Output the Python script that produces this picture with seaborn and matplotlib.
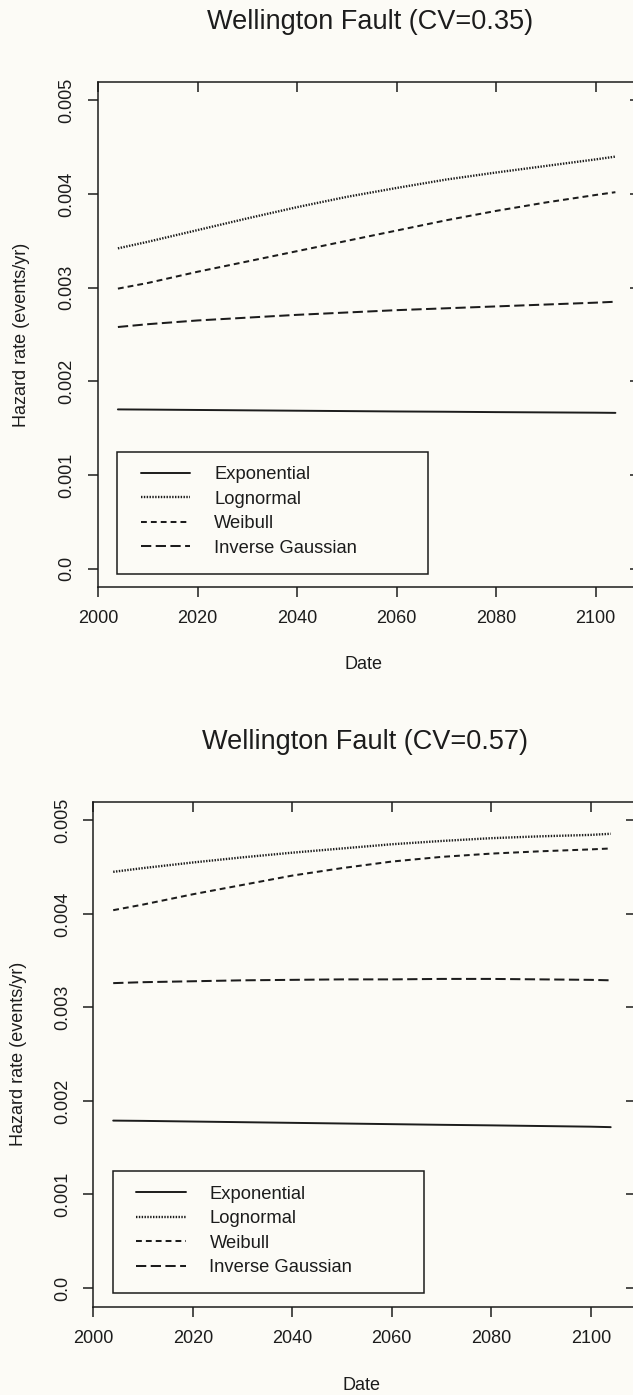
import numpy as np
import pandas as pd
import matplotlib
matplotlib.use("Agg")
import matplotlib.pyplot as plt
from matplotlib.patches import Rectangle
import seaborn as sns

# ---------------- data ----------------
years = [2004, 2010, 2020, 2030, 2040, 2050, 2060, 2070, 2080, 2090, 2100, 2104]
series_names = ["Exponential", "Lognormal", "Weibull", "Inverse Gaussian"]

# CV = 0.35 (values in events/yr)
exp_035 = [0.001700, 0.001698, 0.001694, 0.001690, 0.001686, 0.001682,
           0.001678, 0.001675, 0.001671, 0.001668, 0.001665, 0.001663]
logn_035 = [0.00342, 0.00349, 0.003615, 0.00374, 0.00386, 0.00397,
            0.004065, 0.004155, 0.00423, 0.00430, 0.00437, 0.00440]
weib_035 = [0.00299, 0.00305, 0.00317, 0.00328, 0.00339, 0.00350,
            0.00361, 0.00372, 0.00382, 0.00391, 0.00399, 0.00402]
ig_035 = [0.00258, 0.00261, 0.00265, 0.00268, 0.00271, 0.002735,
          0.00276, 0.00278, 0.00280, 0.00282, 0.00284, 0.00285]

# CV = 0.57
exp_057 = [0.001790, 0.001787, 0.001780, 0.001773, 0.001766, 0.001759,
           0.001752, 0.001745, 0.001739, 0.001732, 0.001725, 0.001720]
logn_057 = [0.00445, 0.00449, 0.00455, 0.004605, 0.004655, 0.00470,
            0.004745, 0.00478, 0.00481, 0.00483, 0.004845, 0.004857]
weib_057 = [0.00404, 0.00410, 0.00421, 0.00431, 0.00441, 0.00449,
            0.00456, 0.00461, 0.004645, 0.00467, 0.00469, 0.00470]
ig_057 = [0.00326, 0.00327, 0.00328, 0.00329, 0.003295, 0.00330,
          0.00330, 0.003305, 0.003305, 0.00330, 0.003295, 0.00329]

titles = ["Wellington Fault (CV=0.35)", "Wellington Fault (CV=0.57)"]
x_ticks = [2000, 2020, 2040, 2060, 2080, 2100]
y_ticks = [0.0, 0.001, 0.002, 0.003, 0.004, 0.005]
y_tick_labels = ["0.0", "0.001", "0.002", "0.003", "0.004", "0.005"]
x_label = "Date"
y_label = "Hazard rate (events/yr)"

panels = [
    dict(title=titles[0], values=[exp_035, logn_035, weib_035, ig_035]),
    dict(title=titles[1], values=[exp_057, logn_057, weib_057, ig_057]),
]

# ---------------- style ----------------
sns.set_style("white")
plt.rcParams["font.family"] = ["Liberation Sans", "DejaVu Sans"]
INK = "#1c1c1c"
BG = "#fcfbf6"
styles = {
    "Exponential": dict(linestyle="-", lw=1.4),
    "Lognormal": dict(linestyle=(0, (0.6, 0.6)), lw=1.7),
    "Weibull": dict(linestyle=(0, (2.9, 2.0)), lw=1.45),
    "Inverse Gaussian": dict(linestyle=(0, (5.1, 2.2)), lw=1.45),
}

W, H = 633, 1395
fig = plt.figure(figsize=(W / 100, H / 100), dpi=100, facecolor=BG)

layouts = [
    dict(left=98.0, bottom=587.3, top=81.7, title_xy=(370, 21.7),
         xlab_xy=(364, 665), ylab_xy=(22, 334.5)),
    dict(left=93.3, bottom=1306.7, top=801.7, title_xy=(365, 741.7),
         xlab_xy=(361, 1385), ylab_xy=(19, 1054.2)),
]
px_per_year = 4.975
xlim = (2000, 2109)
ylim = (-0.0002, 0.0052)

tick_len = 7.2  # points (10 px)
for panel, lay in zip(panels, layouts):
    width_px = (xlim[1] - xlim[0]) * px_per_year
    ax = fig.add_axes([lay["left"] / W, (H - lay["bottom"]) / H,
                       width_px / W, (lay["bottom"] - lay["top"]) / H])
    ax.set_facecolor(BG)

    df = pd.DataFrame({
        "year": np.tile(years, len(series_names)),
        "rate": np.concatenate(panel["values"]),
        "model": np.repeat(series_names, len(years)),
    })
    handles = []
    for name in series_names:
        sub = df[df["model"] == name]
        sns.lineplot(data=sub, x="year", y="rate", ax=ax, color=INK,
                     linestyle=styles[name]["linestyle"],
                     linewidth=styles[name]["lw"], label=name, legend=False,
                     estimator=None, sort=True)
        handles.append(ax.lines[-1])

    ax.set_xlim(*xlim)
    ax.set_ylim(*ylim)
    ax.set_xticks(x_ticks)
    ax.set_xticklabels([str(t) for t in x_ticks])
    ax.set_yticks(y_ticks)
    ax.set_yticklabels(y_tick_labels)
    ax.set_xlabel("")
    ax.set_ylabel("")
    for sp in ax.spines.values():
        sp.set_visible(True)
        sp.set_color(INK)
        sp.set_linewidth(1.1)
    ax.tick_params(axis="x", direction="out", length=tick_len, width=1.1,
                   color=INK, labelsize=13, labelcolor=INK, pad=9.5,
                   bottom=True)
    ax.tick_params(axis="y", direction="out", length=tick_len, width=1.1,
                   color=INK, labelsize=13, labelcolor=INK, pad=9,
                   left=True)
    for lab in ax.get_yticklabels():
        lab.set_rotation(90)
        lab.set_va("center")
        lab.set_ha("right")

    # inward ticks on top and right
    sec_x = ax.secondary_xaxis("top")
    sec_x.set_xticks(x_ticks)
    sec_x.tick_params(direction="in", length=tick_len, width=1.1, color=INK,
                      labeltop=False, labelbottom=False)
    sec_y = ax.secondary_yaxis("right")
    sec_y.set_yticks(y_ticks)
    sec_y.tick_params(direction="in", length=tick_len, width=1.1, color=INK,
                      labelright=False, labelleft=False)
    for s in (sec_x, sec_y):
        for sp in s.spines.values():
            sp.set_visible(False)

    # legend with a plain rectangular frame
    ax.add_patch(Rectangle((0.0358, 0.027), 0.5735, 0.2415,
                           transform=ax.transAxes, fill=False, ec=INK,
                           lw=1.1, zorder=5))
    ax.legend(handles, series_names, loc="upper left",
              bbox_to_anchor=(0.079, 0.2395), borderaxespad=0, borderpad=0,
              frameon=False, fontsize=13.2, handlelength=2.7,
              handletextpad=1.3, labelspacing=0.41, labelcolor=INK)

    fig.text(lay["title_xy"][0] / W, 1 - lay["title_xy"][1] / H,
             panel["title"], ha="center", va="center", fontsize=19.5,
             color=INK)
    fig.text(lay["xlab_xy"][0] / W, 1 - lay["xlab_xy"][1] / H, x_label,
             ha="center", va="center", fontsize=13, color=INK)
    fig.text(lay["ylab_xy"][0] / W, 1 - lay["ylab_xy"][1] / H, y_label,
             ha="center", va="center", rotation=90, fontsize=13, color=INK)

fig.savefig("out.png", dpi=100, facecolor=BG)
